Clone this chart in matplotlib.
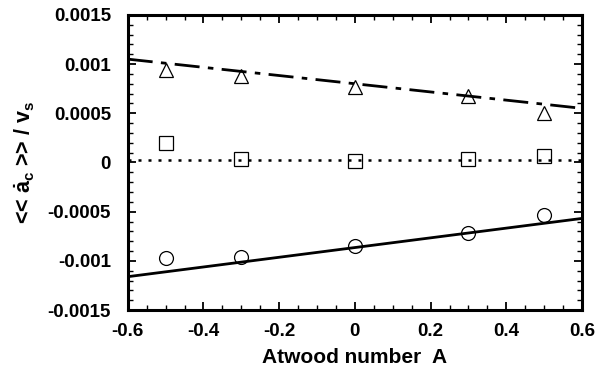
import matplotlib.pyplot as plt
from matplotlib.ticker import MultipleLocator, FuncFormatter

# ── data ─────────────────────────────────────────────────────────────────────
atwood = [-0.5, -0.3, 0.0, 0.3, 0.5]
tri_vals = [0.00094, 0.00088, 0.000765, 0.000677, 0.0005]
sq_vals = [0.000195, 0.00004, 0.00002, 0.00004, 0.00007]
circ_vals = [-0.000975, -0.00096, -0.000846, -0.00072, -0.000534]

fit_x = [-0.6, 0.6]
tri_fit = [0.00105, 0.00055]
sq_fit = [0.00003, 0.00003]
circ_fit = [-0.00116, -0.000568]

plt.rcParams["font.family"] = ["Liberation Sans", "DejaVu Sans"]
plt.rcParams["font.weight"] = "bold"
plt.rcParams["mathtext.fontset"] = "custom"
plt.rcParams["mathtext.rm"] = "Liberation Sans:bold"
plt.rcParams["mathtext.it"] = "Liberation Sans:bold"
plt.rcParams["mathtext.bf"] = "Liberation Sans:bold"

fig = plt.figure(figsize=(5.97, 3.71), dpi=100)
ax = fig.add_axes([0.214, 0.164, 0.761, 0.796])

ax.plot(fit_x, tri_fit, color="black", lw=2, dashes=(9, 3, 2, 3))
ax.plot(fit_x, sq_fit, color="black", lw=1.8, dashes=(1.2, 2.8))
ax.plot(fit_x, circ_fit, color="black", lw=2)

mk = dict(ls="none", mfc="none", mec="black", mew=0.9)
ax.plot(atwood, tri_vals, marker="^", ms=10, **mk)
ax.plot(atwood, sq_vals, marker="s", ms=9.5, **mk)
ax.plot(atwood, circ_vals, marker="o", ms=10, **mk)

ax.set_xlim(-0.6, 0.6)
ax.set_ylim(-0.0015, 0.0015)
ax.xaxis.set_major_locator(MultipleLocator(0.2))
ax.xaxis.set_minor_locator(MultipleLocator(0.05))
ax.yaxis.set_major_locator(MultipleLocator(0.0005))
ax.yaxis.set_minor_locator(MultipleLocator(0.0001))
ax.xaxis.set_major_formatter(FuncFormatter(lambda v, _: "0" if abs(v) < 1e-9 else f"{v:g}"))
ax.yaxis.set_major_formatter(FuncFormatter(lambda v, _: "0" if abs(v) < 1e-12 else f"{v:g}"))

ax.tick_params(which="both", direction="in", top=True, right=True, labelsize=13.5)
ax.tick_params(which="major", length=6, width=1.3)
ax.tick_params(axis="y", which="major", pad=12)
ax.tick_params(axis="x", which="major", pad=9)
ax.tick_params(which="minor", length=3.5, width=1.0)
for s in ax.spines.values():
    s.set_linewidth(2.2)

ax.set_xlabel("Atwood number  A", fontsize=15, fontweight="bold", labelpad=6)
ax.set_ylabel(r"<< $\dot{a}_c$ >> / v$_s$", fontsize=15.5, fontweight="bold", labelpad=8)

fig.savefig("out.png", dpi=100)
